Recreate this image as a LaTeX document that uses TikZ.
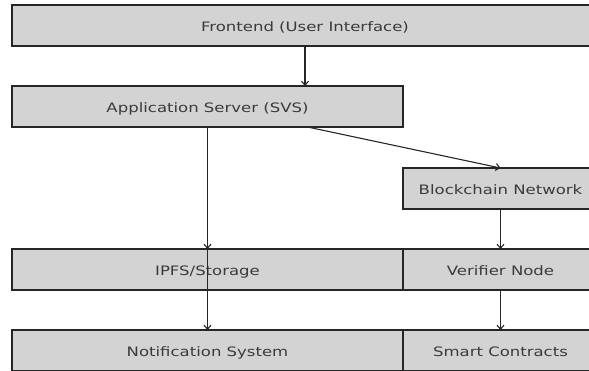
\documentclass[tikz,border=0pt]{standalone}
\usepackage{fontspec}
\setmainfont{DejaVu Sans}[FakeStretch=1.27]
\usetikzlibrary{arrows.meta,positioning}
\definecolor{boxgray}{HTML}{D3D3D3}
\definecolor{inkgray}{HTML}{3A3A3A}
\tikzstyle{block}=[draw=black!85,fill=boxgray,line width=1.2pt,minimum height=41pt,inner sep=0pt,outer sep=0pt,text height=12pt,text depth=0pt,text=inkgray,font=\fontsize{13}{15}\selectfont]
\tikzstyle{every edge}=[draw,line width=1.1pt,black!85,>={Straight Barb[length=4pt,width=7pt]}]

\begin{document}
\begin{tikzpicture}[x=1pt,y=1pt]
  \useasboundingbox (0,0) rectangle (589,-370);
  \clip (0,0) rectangle (589,-370);
  \node[block,minimum width=586pt,anchor=north west] (front) at (12,-5) {Frontend (User Interface)};
  \node[block,minimum width=391pt,below=40pt of front.south west,anchor=north west] (app) {Application Server (SVS)};
  \node[block,minimum width=195pt,below=41pt of app.south east,anchor=north west] (chain) {Blockchain Network};
  \node[block,minimum width=391pt,below=40pt of chain.south west,anchor=north east] (ipfs) {IPFS/Storage};
  \node[block,minimum width=195pt,right=0pt of ipfs] (verify) {Verifier Node};
  \node[block,minimum width=391pt,below=40pt of ipfs] (notif) {Notification System};
  \node[block,minimum width=195pt,right=0pt of notif] (smart) {Smart Contracts};

  \path[->] (front.south) edge (front.south |- app.north)
    (app.south) edge (ipfs.north)
    ([xshift=100pt]app.south) edge (chain.north)
    (chain.south) edge (verify.north)
    (ipfs.north) edge (notif.north)
    (verify.south) edge (smart.north);
\end{tikzpicture}
\end{document}
